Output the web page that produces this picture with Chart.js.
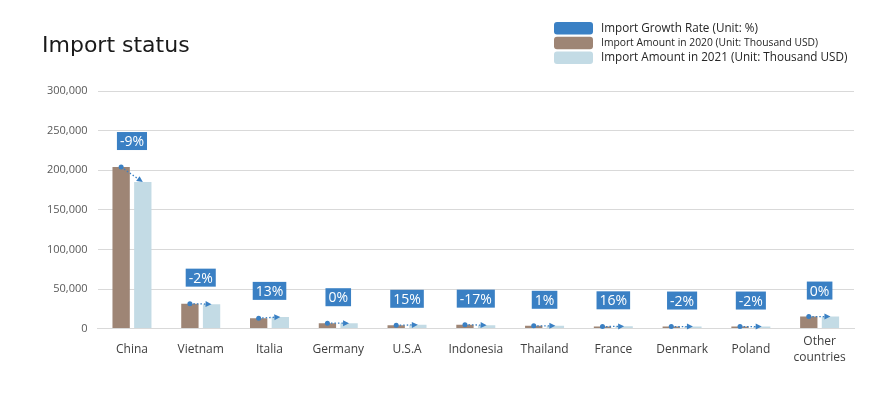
<!DOCTYPE html>
<html><head><meta charset="utf-8">
<script src="https://cdn.jsdelivr.net/npm/chart.js@4"></script>
<style>html,body{margin:0;padding:0;background:#fff}#wrap{width:889px;height:394px;position:relative}</style>
</head><body><div id="wrap"><canvas id="c"></canvas></div>
<script>
const categories = ['China','Vietnam','Italia','Germany','U.S.A','Indonesia','Thailand','France','Denmark','Poland',['Other','countries']];
const import2020 = [204000, 31500, 13100, 6800, 4200, 5000, 3500, 2500, 2600, 2600, 15200];
const import2021 = [185000, 30800, 14800, 6800, 4800, 4200, 3550, 2900, 2550, 2550, 15200];
const growthRate = [-9, -2, 13, 0, 15, -17, 1, 16, -2, -2, 0];
const yTicks = [0, 50000, 100000, 150000, 200000, 250000, 300000];
const seriesNames = ['Import Growth Rate (Unit: %)', 'Import Amount in 2020 (Unit: Thousand USD)', 'Import Amount in 2021 (Unit: Thousand USD)'];
const titleText = 'Import status';

const BLUE = '#3a80c4', BROWN = '#9e8575', LIGHT = '#c3dbe5';

const growthPlugin = {
  id: 'growth',
  afterDatasetsDraw(chart) {
    const ctx = chart.ctx;
    const m0 = chart.getDatasetMeta(0), m1 = chart.getDatasetMeta(1);
    const gData = chart.data.datasets[2].data;
    ctx.save();
    for (let i = 0; i < m0.data.length; i++) {
      const b0 = m0.data[i], b1 = m1.data[i];
      const x0 = b0.x, y0 = b0.y, x1 = b1.x, y1 = b1.y;
      const ang = Math.atan2(y1 - y0, x1 - x0);
      const ah = 6, aw = 3;
      const ex = x1 - Math.cos(ang) * ah, ey = y1 - Math.sin(ang) * ah;
      ctx.strokeStyle = BLUE; ctx.lineWidth = 1.3;
      ctx.setLineDash([1.5, 2]);
      ctx.beginPath(); ctx.moveTo(x0, y0); ctx.lineTo(ex, ey); ctx.stroke();
      ctx.setLineDash([]);
      ctx.fillStyle = BLUE;
      ctx.beginPath();
      ctx.moveTo(x1, y1);
      ctx.lineTo(ex + Math.sin(ang) * aw, ey - Math.cos(ang) * aw);
      ctx.lineTo(ex - Math.sin(ang) * aw, ey + Math.cos(ang) * aw);
      ctx.closePath(); ctx.fill();
      ctx.beginPath(); ctx.arc(x0, y0, 2.5, 0, Math.PI * 2); ctx.fill();
      const txt = gData[i] + '%';
      ctx.font = '14px "Open Sans"';
      const tw = ctx.measureText(txt).width;
      const cx = (x0 + x1) / 2, cy = Math.min(y0, y1) - 26;
      const w = tw + 6, h = 18;
      ctx.fillStyle = BLUE;
      ctx.fillRect(cx - w / 2, cy - h / 2, w, h);
      ctx.fillStyle = '#ffffff';
      ctx.textAlign = 'center'; ctx.textBaseline = 'middle';
      ctx.fillText(txt, cx, cy + 1);
    }
    ctx.restore();
  }
};

const legendPlugin = {
  id: 'customLegend',
  afterDraw(chart) {
    const ctx = chart.ctx;
    const cols = [BLUE, BROWN, LIGHT];
    const sizes = [11.7, 10.3, 11.7];
    ctx.save();
    // title
    ctx.font = '22px "DejaVu Sans"';
    ctx.fillStyle = '#1a1a1a';
    ctx.textBaseline = 'middle'; ctx.textAlign = 'left';
    ctx.fillText(titleText, 42, 46);
    for (let i = 0; i < 3; i++) {
      const y = 22 + i * 14.7;
      ctx.fillStyle = cols[i];
      ctx.beginPath();
      ctx.roundRect(554, y, 39, 12.5, 3);
      ctx.fill();
      ctx.font = sizes[i] + 'px "Open Sans"';
      ctx.fillStyle = '#262626';
      ctx.fillText(chart.data.datasets[(i + 2) % 3].label, 601, y + 6.5);
    }
    ctx.restore();
  }
};

new Chart(document.getElementById('c'), {
  type: 'bar',
  data: {
    labels: categories,
    datasets: [
      { label: seriesNames[1], data: import2020, backgroundColor: BROWN, categoryPercentage: 0.63, barPercentage: 0.8, order: 2 },
      { label: seriesNames[2], data: import2021, backgroundColor: LIGHT, categoryPercentage: 0.63, barPercentage: 0.8, order: 2 },
      { label: seriesNames[0], type: 'line', data: growthRate, yAxisID: 'yG', showLine: false, pointRadius: 0, borderColor: BLUE, backgroundColor: BLUE, order: 1 }
    ]
  },
  options: {
    responsive: true,
    maintainAspectRatio: false,
    animation: false,
    layout: { padding: { left: 37, right: 35, top: 91, bottom: 15 } },
    plugins: {
      legend: { display: false },
      tooltip: { enabled: false },
      title: { display: false }
    },
    scales: {
      x: {
        grid: { display: false },
        border: { color: '#d9d9d9' },
        ticks: { color: '#404040', font: { family: 'Open Sans', size: 12, lineHeight: 1.35 }, padding: 5, crossAlign: 'center', maxRotation: 0, autoSkip: false }
      },
      y: {
        min: 0, max: 300000,
        afterBuildTicks(axis) { axis.ticks = yTicks.map(v => ({ value: v })); },
        grid: { color: '#d9d9d9', drawTicks: false },
        border: { display: false },
        ticks: { color: '#595959', font: { family: 'Open Sans', size: 11 }, padding: 10, callback: v => v.toLocaleString('en-US') }
      },
      yG: { display: false, min: -50, max: 50 }
    }
  },
  plugins: [growthPlugin, legendPlugin]
});
</script></body></html>
